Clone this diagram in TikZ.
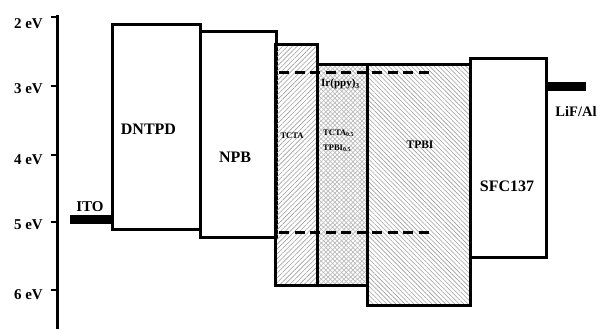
\documentclass[tikz,border=0pt]{standalone}
\usepackage{fontspec}
\setmainfont{Liberation Serif}
\usetikzlibrary{patterns.meta}
\begin{document}
\begin{tikzpicture}[x=1pt,y=-1pt,
  lvl/.style={draw, line width=3pt, rectangle, inner sep=0pt, outer sep=0pt, anchor=north west},
  lab/.style={font=\bfseries\fontsize{16}{16}\selectfont, inner sep=0pt},
  small/.style={font=\bfseries\fontsize{8.5}{9}\selectfont, inner sep=0pt},
  axlab/.style={font=\bfseries\fontsize{15}{15}\selectfont, inner sep=0pt, anchor=east},
  dashlvl/.style={line width=3pt, dash pattern=on 10pt off 5.5pt},
  bar/.style={fill=black, draw=none, inner sep=0pt, outer sep=0pt, anchor=north west}]
\useasboundingbox (0,0) rectangle (598,329);
% axis
\coordinate (axtop) at (57,15);
\coordinate (axbot) at (57,329);
\draw[line width=3pt] (axtop) -- (axbot);
\foreach \y/\t/\ly in {17/2/24, 86/3/89, 155/4/160, 222/5/225, 290/6/295}{
  \draw[line width=2.6pt] (51,\y) -- (57,\y);
  \node[axlab] at (43,\ly) {\t\ eV};
}
% levels
\node[lvl, minimum width=88pt, minimum height=204pt] (dntpd) at (112,25) {};
\node[lvl, minimum width=76pt, minimum height=205pt] (npb) at (200,32) {};
\node[lvl, minimum width=103pt, minimum height=240pt,
  pattern={Lines[angle=-45, distance=3.2pt, line width=0.6pt]}, pattern color=gray!75] (tpbi) at (367,65) {};
\node[lvl, minimum width=42pt, minimum height=240pt,
  pattern={Lines[angle=45, distance=3.4pt, line width=0.6pt]}, pattern color=gray!75] (tcta) at (275,45) {};
\node[lvl, minimum width=50pt, minimum height=220pt,
  preaction={pattern={Lines[angle=-45, distance=3.2pt, line width=0.7pt]}, pattern color=gray!55},
  pattern={Lines[angle=45, distance=3.2pt, line width=0.7pt]}, pattern color=gray!55] (mix) at (317,65) {};
\node[lvl, minimum width=76pt, minimum height=198pt, fill=white] (sfc) at (470,59) {};
% electrodes
\node[bar, minimum width=42pt, minimum height=9pt] (ito) at (70,215) {};
\node[bar, minimum width=40pt, minimum height=9pt] (lif) at (546,82) {};
% dopant levels
\coordinate (d1a) at (279,73);
\coordinate (d1b) at (430,73);
\coordinate (d2a) at (279,232);
\coordinate (d2b) at (430,232);
\draw[dashlvl] (d1a) -- (d1b);
\draw[dashlvl] (d2a) -- (d2b);
% labels
\node[lab] (ldntpd) at (148.5,129.5) {DNTPD};
\node[lab] (lnpb) at (235,157) {NPB};
\node[small] (ltcta) at (292,136) {TCTA};
\node[small, anchor=west] (lmix1) at (323,133) {TCTA\textsubscript{0.5}};
\node[small, anchor=west] (lmix2) at (323,148) {TPBI\textsubscript{0.5}};
\node[font=\bfseries\fontsize{11}{11}\selectfont, inner sep=0pt, anchor=west] (lir) at (321,84) {Ir(ppy)\textsubscript{3}};
\node[font=\bfseries\fontsize{11.5}{12}\selectfont, inner sep=0pt] (ltpbi) at (420,145) {TPBI};
\node[lab] (lsfc) at (507,186) {SFC137};
\node[font=\bfseries\fontsize{15}{15}\selectfont, inner sep=0pt] (lito) at (90,207) {ITO};
\node[font=\bfseries\fontsize{14.5}{15}\selectfont, inner sep=0pt] (llif) at (576,112) {LiF/Al};
\end{tikzpicture}
\end{document}
